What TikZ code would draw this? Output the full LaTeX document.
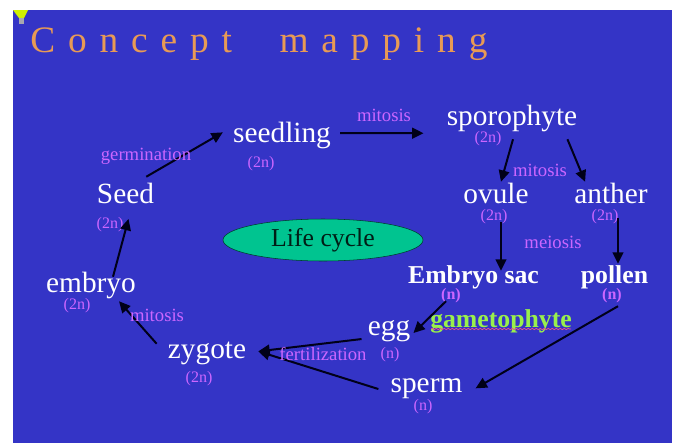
\documentclass[tikz,border=0pt]{standalone}
\usepackage{fontspec}
\setmainfont{Liberation Serif}
\newfontfamily\titlefont[LetterSpace=34.5]{Liberation Serif}
\usetikzlibrary{arrows.meta,decorations.pathmorphing,shapes.geometric}
\definecolor{Slide}{HTML}{3434C6}
\definecolor{Title}{HTML}{E89A55}
\definecolor{Process}{HTML}{CC66FF}
\definecolor{Cycle}{HTML}{00C490}
\definecolor{Gameto}{HTML}{99F04C}
\definecolor{Squiggle}{HTML}{E8508C}
\definecolor{Bulb}{HTML}{D0F000}
\definecolor{BulbBase}{HTML}{A8A8B0}
\tikzset{
  stage/.style={text=white,anchor=base,inner sep=0pt,text height=15pt,text depth=5pt,font=\fontsize{22}{24}\selectfont},
  boldstage/.style={stage,text depth=2.5pt,font=\fontsize{19.3}{22}\selectfont\bfseries},
  ploidy/.style={text=Process,anchor=base,inner sep=0pt,font=\fontsize{12}{14}\selectfont},
  boldploidy/.style={ploidy,font=\fontsize{12}{14}\selectfont\bfseries},
  process/.style={text=Process,anchor=base,inner sep=0pt,font=\fontsize{14}{16}\selectfont},
  flow/.style={-{Triangle[length=8.5pt,width=8pt]},draw=black!90!blue,line width=1.5pt}
}
\begin{document}
\begin{tikzpicture}[x=.75pt,y=-.75pt]
  \useasboundingbox (0,0) rectangle (674,443);
  \fill[Slide] (13,10) rectangle (672,443);
  % bulb in the corner
  \fill[Bulb] (13,10) -- (28,10) -- (24,18) -- (19,18) -- cycle;
  \fill[BulbBase] (19,18) rectangle (24,24);
  \node[anchor=base west,inner sep=0pt,text=Title,font=\fontsize{28}{32}\titlefont] (title) at (30,52) {Concept\ \hspace{19pt}mapping};
  \node[draw=black!70!Cycle,fill=Cycle,ellipse,minimum width=150pt,minimum height=31.5pt,inner sep=0pt,font=\fontsize{19.3}{24}\selectfont,text=black!85!Cycle] (lifecycle) at (323,240) {Life cycle};
  % stages
  \node[stage] (seedling) at (282,142) {seedling};
  \node[stage] (sporophyte) at (512,125) {sporophyte};
  \node[stage] (ovule) at (496,203) {ovule};
  \node[stage] (anther) at (611,203) {anther};
  \node[boldstage] (embryosac) at (473.5,283) {Embryo sac};
  \node[boldstage] (pollen) at (614.5,283) {pollen};
  \node[stage] (egg) at (389,335) {egg};
  \node[stage] (sperm) at (426.5,392) {sperm};
  \node[stage] (zygote) at (207,358) {zygote};
  \node[stage] (embryo) at (91,292) {embryo};
  \node[stage] (seed) at (125.5,203) {Seed};
  % ploidy
  \node[ploidy] (nseedling) at (261,167) {(2n)};
  \node[ploidy] (nsporophyte) at (488,142) {(2n)};
  \node[ploidy] (novule) at (494,220) {(2n)};
  \node[ploidy] (nanther) at (605,220) {(2n)};
  \node[boldploidy] (nembryosac) at (451,299) {(n)};
  \node[boldploidy] (npollen) at (612,299) {(n)};
  \node[ploidy] (negg) at (390,358) {(n)};
  \node[ploidy] (nsperm) at (423,410) {(n)};
  \node[ploidy] (nzygote) at (199,382) {(2n)};
  \node[ploidy] (nembryo) at (77,309) {(2n)};
  \node[ploidy] (nseed) at (110,228) {(2n)};
  % connectors
  \draw[flow] ([shift={(-8,-6)}]seed.north east) -- ([shift={(-10,-3)}]seedling.west);
  \draw[flow] ([shift={(9,-2.3)}]seedling.east) -- ([shift={(-23,1.3)}]sporophyte.south west);
  \draw[flow] ([shift={(1,7.3)}]sporophyte.south) -- ([shift={(5,-1)}]ovule.north);
  \draw[flow] ([shift={(-10,7.3)}]sporophyte.south east) -- ([shift={(11,-1)}]anther.north west);
  \draw[flow] ([shift={(5,12.3)}]ovule.south) -- ([shift={(27.5,8)}]embryosac.north);
  \draw[flow] ([shift={(7,8.3)}]anther.south) -- ([shift={(3.5,1)}]pollen.north);
  \draw[flow] ([shift={(-27.5,14.6)}]embryosac.south) -- ([shift={(3,4.7)}]egg.east);
  \draw[flow] ([shift={(3.5,19.6)}]pollen.south) -- ([shift={(13,3)}]sperm.east);
  \draw[flow] ([shift={(-6,10.7)}]egg.west) -- ([shift={(12,0)}]zygote.east);
  \draw[flow] ([shift={(-12,3.7)}]sperm.west) -- ([shift={(12,0)}]zygote.east);
  \draw[flow] ([shift={(-11,6)}]zygote.north west) -- ([shift={(28,2.33)}]embryo.south);
  \draw[flow] ([shift={(22,5)}]embryo.north) -- ([shift={(3,9)}]seed.south);
  % process labels
  \node[process] (germination) at (146,160) {germination};
  \node[process] (mitosisa) at (384,121) {mitosis};
  \node[process] (mitosisb) at (540,176) {mitosis};
  \node[process] (meiosis) at (553,248) {meiosis};
  \node[process] (mitosisc) at (157,321) {mitosis};
  \node[process] (fertilization) at (323,360) {fertilization};
  \node[boldstage,text=Gameto] (gametophyte) at (501,327) {gametophyte};
  \draw[Squiggle,line width=.6pt,decorate,decoration={snake,amplitude=.5pt,segment length=3pt}] (431,329) -- (571,329);
\end{tikzpicture}
\end{document}
